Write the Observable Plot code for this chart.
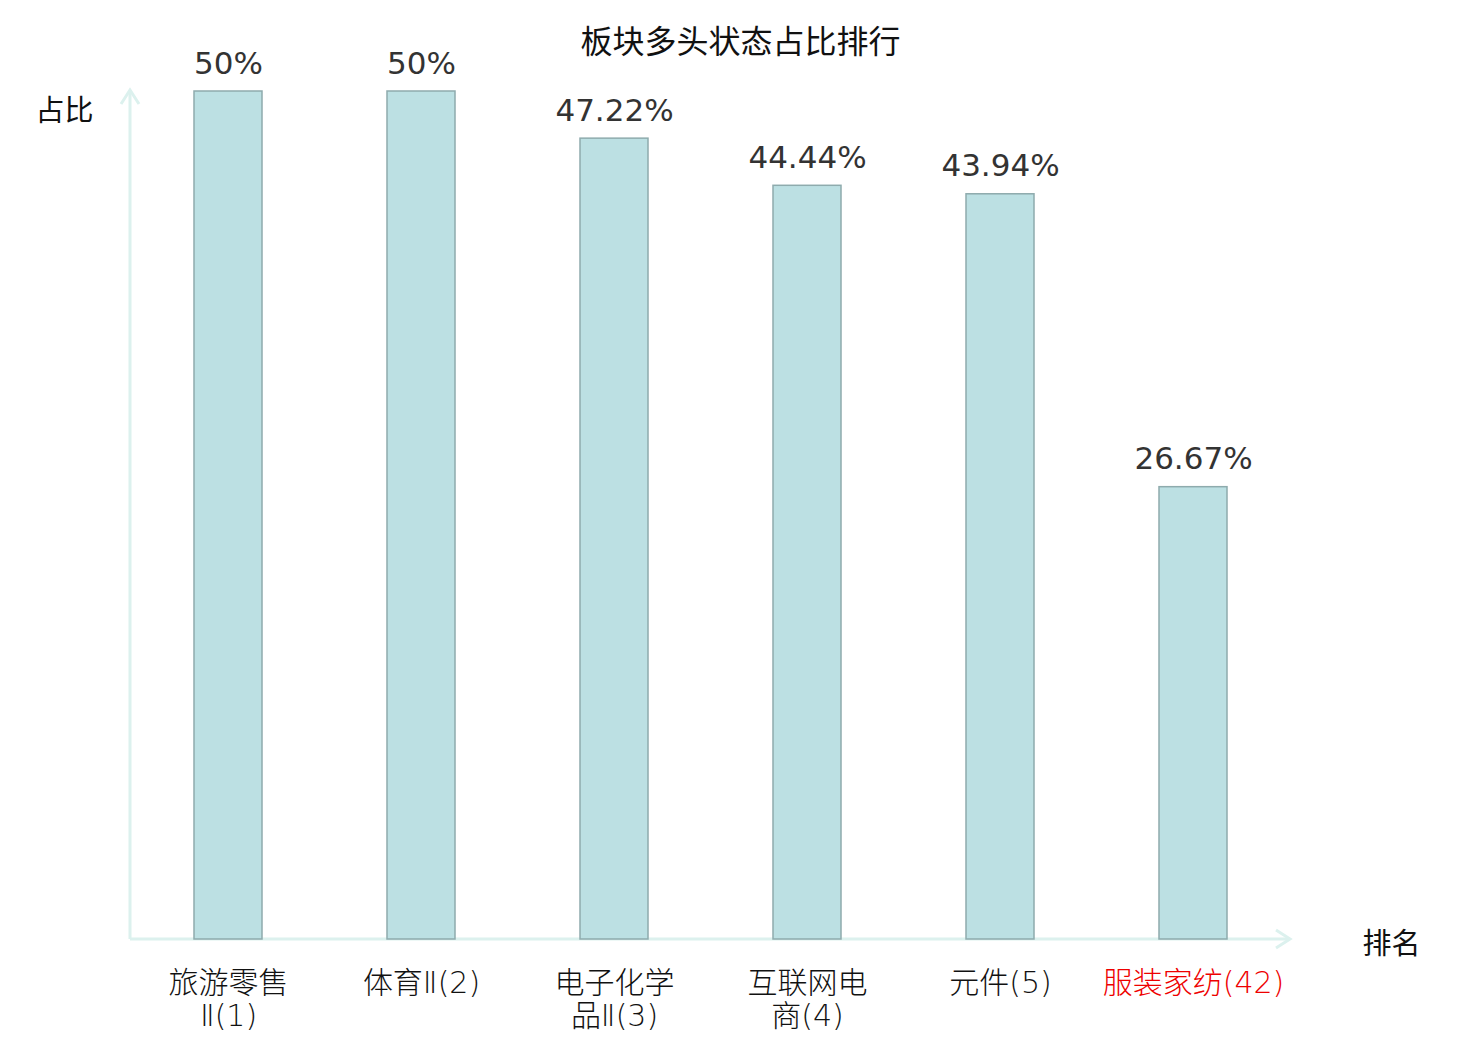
<!DOCTYPE html>
<html><head><meta charset="utf-8">
<script src="https://cdn.jsdelivr.net/npm/d3@7"></script>
<script src="https://cdn.jsdelivr.net/npm/@observablehq/plot@0.6"></script>
<style>body{margin:0;background:#fff;} svg{display:block;}</style>
</head><body><div id="chart"></div>
<script>
const categories = ["旅游零售Ⅱ(1)", "体育Ⅱ(2)", "电子化学品Ⅱ(3)", "互联网电商(4)", "元件(5)", "服装家纺(42)"];
const tickLabels = ["旅游零售\nⅡ(1)", "体育Ⅱ(2)", "电子化学\n品Ⅱ(3)", "互联网电\n商(4)", "元件(5)", "服装家纺(42)"];
const values = [50, 50, 47.22, 44.44, 43.94, 26.67];
const valueLabels = ["50%", "50%", "47.22%", "44.44%", "43.94%", "26.67%"];
const highlight = ["服装家纺(42)"];

const data = categories.map((c, i) => ({cat: c, v: values[i], lab: valueLabels[i], tick: tickLabels[i]}));
const NUMFONT = "'DejaVu Sans', 'Noto Sans CJK SC', sans-serif";
const CJKFONT = "'Noto Sans CJK SC', sans-serif";
const axisColor = "#dcf1ee";

function axesArrows(index, scales, values, dim) {
  const g = d3.create("svg:g").attr("fill", "none").attr("stroke", axisColor).attr("stroke-width", 3);
  const x0 = 130, y0 = dim.height - dim.marginBottom, x1 = dim.width - 190, yTop = dim.marginTop - 1;
  g.append("line").attr("x1", x0).attr("y1", y0).attr("x2", x1).attr("y2", y0);
  g.append("path").attr("d", `M${x1-14},${y0-9}L${x1},${y0}L${x1-14},${y0+9}`);
  g.append("line").attr("x1", x0).attr("y1", y0).attr("x2", x0).attr("y2", yTop);
  g.append("path").attr("d", `M${x0-9},${yTop+14}L${x0},${yTop}L${x0+9},${yTop+14}`);
  return g.node();
}

const chart = Plot.plot({
  width: 1480,
  height: 1040,
  marginTop: 91,
  marginBottom: 101,
  marginLeft: 130,
  marginRight: 190,
  style: {background: "#fff", fontFamily: NUMFONT},
  x: {domain: categories, paddingInner: 0.65, paddingOuter: 0.33, axis: null},
  y: {domain: [0, 50], axis: null},
  marks: [
    axesArrows,
    Plot.barY(data, {x: "cat", y: "v", fill: "#bce0e3", stroke: "#8eabad", strokeWidth: 1.5}),
    Plot.text(data, {x: "cat", y: "v", text: "lab", lineAnchor: "bottom", dy: -18, fontSize: 31, fontFamily: NUMFONT, fill: "#333333"}),
    Plot.text(data, {x: "cat", text: "tick", frameAnchor: "bottom", lineAnchor: "top", dy: 30, fontSize: 30, fontFamily: NUMFONT, fontWeight: 300, lineHeight: 1.1,
      fill: d => highlight.includes(d.cat) ? "#ee0000" : "#111111"}),
    Plot.text(["板块多头状态占比排行"], {frameAnchor: "top", dy: -61, dx: 30, text: d => d, fontSize: 32, fontFamily: CJKFONT, fill: "#111111"}),
    Plot.text(["占比"], {frameAnchor: "top-left", dx: -95, dy: 9, text: d => d, fontSize: 29, fontFamily: CJKFONT, fill: "#111111"}),
    Plot.text(["排名"], {frameAnchor: "bottom-right", dx: 130, dy: 14, text: d => d, fontSize: 29, fontFamily: CJKFONT, fill: "#111111"})
  ]
});
document.getElementById("chart").append(chart);
</script></body></html>
